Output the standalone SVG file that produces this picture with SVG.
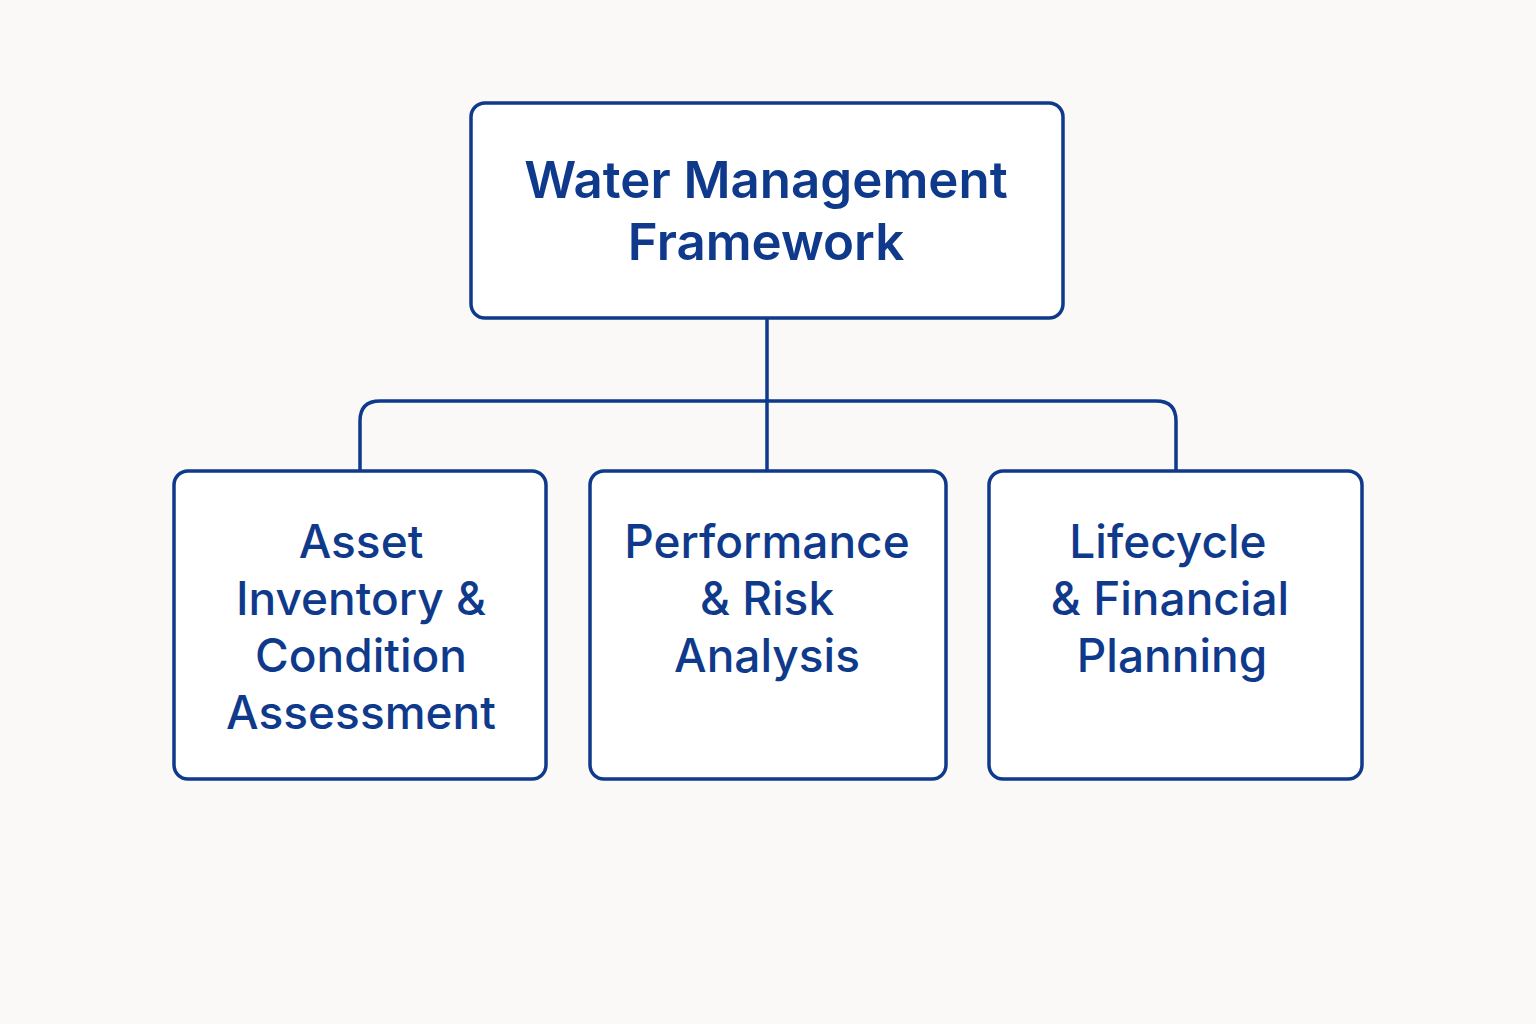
<svg xmlns="http://www.w3.org/2000/svg" width="1536" height="1024" viewBox="0 0 1536 1024">
<style>
.box{fill:#ffffff;stroke:#0f3a8c;stroke-width:3.5}
.conn{fill:none;stroke:#0f3a8c;stroke-width:3.5}
.t{font-family:Inter,"Liberation Sans",sans-serif;fill:#0f3a8c;text-anchor:middle}
.title{font-size:51px;font-weight:600}
.lbl{font-size:46px;font-weight:500}
</style>
<rect width="1536" height="1024" fill="#faf9f7"/>
<g id="connectors">
<path class="conn" d="M767 318 V471"/>
<path class="conn" d="M360 471 V421 Q360 401 380 401 H1156 Q1176 401 1176 421 V471"/>
</g>
<g id="root">
<rect class="box" x="471" y="103" width="592" height="215" rx="14"/>
<text class="t title" x="766" y="198">Water Management</text>
<text class="t title" x="766" y="260">Framework</text>
</g>
<g id="asset">
<rect class="box" x="174" y="471" width="372" height="308" rx="14"/>
<text class="t lbl" x="361" y="558">Asset</text>
<text class="t lbl" x="361" y="615">Inventory &amp;</text>
<text class="t lbl" x="361" y="672">Condition</text>
<text class="t lbl" x="361" y="729">Assessment</text>
</g>
<g id="performance">
<rect class="box" x="590" y="471" width="356" height="308" rx="14"/>
<text class="t lbl" x="767" y="558">Performance</text>
<text class="t lbl" x="767" y="615">&amp; Risk</text>
<text class="t lbl" x="767" y="672">Analysis</text>
</g>
<g id="lifecycle">
<rect class="box" x="989" y="471" width="373" height="308" rx="14"/>
<text class="t lbl" x="1168" y="558">Lifecycle</text>
<text class="t lbl" x="1170" y="615">&amp; Financial</text>
<text class="t lbl" x="1172" y="672">Planning</text>
</g>
</svg>
